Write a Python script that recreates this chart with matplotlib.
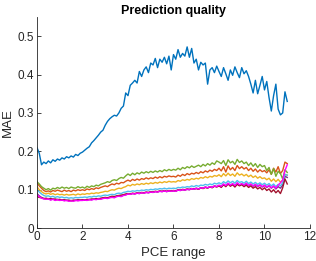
import numpy as np
import matplotlib
matplotlib.use("Agg")
import matplotlib.pyplot as plt

# PCE range 0 .. 11 step 0.1
pce = np.round(np.arange(0, 11.05, 0.1), 2)

mae_blue = [
    0.210, 0.195, 0.165, 0.172, 0.168, 0.175, 0.170, 0.178, 0.174, 0.180,
    0.177, 0.183, 0.180, 0.186, 0.183, 0.188, 0.185, 0.192, 0.189, 0.195,
    0.198, 0.203, 0.208, 0.212, 0.222, 0.228, 0.235, 0.242, 0.250, 0.255,
    0.268, 0.278, 0.285, 0.290, 0.294, 0.292, 0.300, 0.312, 0.318, 0.352,
    0.345, 0.372, 0.378, 0.385, 0.378, 0.408, 0.395, 0.412, 0.420, 0.405,
    0.430, 0.425, 0.442, 0.418, 0.440, 0.432, 0.445, 0.428, 0.448, 0.412,
    0.452, 0.440, 0.465, 0.445, 0.455, 0.448, 0.472, 0.445, 0.468, 0.430,
    0.440, 0.412, 0.432, 0.425, 0.430, 0.375, 0.412, 0.418, 0.405, 0.422,
    0.408, 0.395, 0.418, 0.402, 0.385, 0.412, 0.398, 0.420, 0.405, 0.392,
    0.418, 0.402, 0.410, 0.395, 0.375, 0.352, 0.385, 0.350, 0.372, 0.395,
    0.360, 0.382, 0.340, 0.305, 0.345, 0.375, 0.310, 0.295, 0.300, 0.355,
    0.330]

mae_orange = [
    0.118, 0.110, 0.104, 0.098, 0.095, 0.097, 0.094, 0.098, 0.096, 0.099,
    0.097, 0.095, 0.099, 0.096, 0.098, 0.095, 0.099, 0.097, 0.100, 0.098,
    0.100, 0.098, 0.102, 0.100, 0.103, 0.101, 0.105, 0.103, 0.106, 0.108,
    0.110, 0.108, 0.112, 0.115, 0.113, 0.117, 0.115, 0.119, 0.118, 0.122,
    0.125, 0.122, 0.127, 0.124, 0.128, 0.125, 0.129, 0.127, 0.131, 0.128,
    0.131, 0.129, 0.133, 0.130, 0.134, 0.131, 0.135, 0.133, 0.136, 0.134,
    0.135, 0.133, 0.138, 0.135, 0.140, 0.137, 0.142, 0.139, 0.143, 0.141,
    0.145, 0.142, 0.147, 0.144, 0.149, 0.146, 0.151, 0.148, 0.153, 0.150,
    0.156, 0.149, 0.160, 0.146, 0.162, 0.152, 0.158, 0.150, 0.163, 0.155,
    0.160, 0.154, 0.158, 0.150, 0.156, 0.148, 0.154, 0.146, 0.152, 0.147,
    0.150, 0.144, 0.152, 0.140, 0.156, 0.146, 0.160, 0.142, 0.150, 0.172,
    0.168]

mae_yellow = [
    0.108, 0.100, 0.095, 0.091, 0.089, 0.091, 0.088, 0.090, 0.087, 0.089,
    0.087, 0.088, 0.086, 0.088, 0.086, 0.087, 0.088, 0.086, 0.089, 0.087,
    0.089, 0.088, 0.090, 0.089, 0.091, 0.090, 0.092, 0.091, 0.093, 0.094,
    0.096, 0.095, 0.098, 0.100, 0.099, 0.102, 0.104, 0.103, 0.106, 0.108,
    0.112, 0.110, 0.114, 0.112, 0.115, 0.113, 0.116, 0.114, 0.117, 0.115,
    0.118, 0.116, 0.119, 0.117, 0.120, 0.118, 0.121, 0.119, 0.122, 0.120,
    0.121, 0.120, 0.124, 0.122, 0.126, 0.124, 0.127, 0.125, 0.129, 0.127,
    0.130, 0.128, 0.132, 0.130, 0.134, 0.131, 0.135, 0.133, 0.137, 0.135,
    0.139, 0.134, 0.142, 0.136, 0.143, 0.137, 0.141, 0.135, 0.144, 0.138,
    0.141, 0.136, 0.140, 0.134, 0.138, 0.132, 0.136, 0.130, 0.134, 0.129,
    0.131, 0.126, 0.130, 0.122, 0.128, 0.121, 0.127, 0.120, 0.125, 0.140,
    0.138]

mae_purple = [
    0.090, 0.084, 0.080, 0.077, 0.076, 0.077, 0.074, 0.076, 0.073, 0.075,
    0.073, 0.074, 0.072, 0.073, 0.071, 0.072, 0.071, 0.073, 0.072, 0.073,
    0.073, 0.074, 0.073, 0.075, 0.074, 0.076, 0.075, 0.077, 0.076, 0.078,
    0.079, 0.078, 0.080, 0.081, 0.080, 0.083, 0.084, 0.083, 0.086, 0.087,
    0.089, 0.088, 0.090, 0.089, 0.091, 0.090, 0.092, 0.091, 0.093, 0.092,
    0.094, 0.093, 0.095, 0.094, 0.096, 0.095, 0.097, 0.095, 0.097, 0.096,
    0.097, 0.096, 0.099, 0.098, 0.100, 0.099, 0.101, 0.100, 0.103, 0.101,
    0.104, 0.102, 0.105, 0.104, 0.107, 0.105, 0.108, 0.106, 0.110, 0.108,
    0.111, 0.108, 0.114, 0.110, 0.116, 0.111, 0.115, 0.110, 0.117, 0.112,
    0.115, 0.111, 0.116, 0.110, 0.114, 0.109, 0.113, 0.108, 0.112, 0.107,
    0.111, 0.106, 0.110, 0.104, 0.109, 0.102, 0.108, 0.104, 0.112, 0.135,
    0.132]

mae_green = [
    0.121, 0.115, 0.108, 0.104, 0.100, 0.103, 0.099, 0.104, 0.102, 0.106,
    0.103, 0.107, 0.104, 0.106, 0.103, 0.107, 0.105, 0.104, 0.108, 0.105,
    0.107, 0.104, 0.109, 0.106, 0.110, 0.108, 0.112, 0.110, 0.114, 0.116,
    0.118, 0.121, 0.119, 0.124, 0.126, 0.124, 0.129, 0.132, 0.130, 0.136,
    0.141, 0.137, 0.143, 0.139, 0.144, 0.141, 0.146, 0.143, 0.147, 0.144,
    0.148, 0.145, 0.149, 0.146, 0.150, 0.147, 0.152, 0.149, 0.153, 0.150,
    0.153, 0.151, 0.156, 0.152, 0.158, 0.155, 0.160, 0.157, 0.162, 0.158,
    0.161, 0.164, 0.160, 0.166, 0.162, 0.168, 0.164, 0.170, 0.166, 0.175,
    0.172, 0.168, 0.176, 0.163, 0.178, 0.170, 0.174, 0.166, 0.179, 0.171,
    0.175, 0.168, 0.172, 0.163, 0.170, 0.161, 0.168, 0.158, 0.166, 0.160,
    0.163, 0.150, 0.158, 0.140, 0.155, 0.135, 0.148, 0.142, 0.128, 0.152,
    0.145]

mae_lightblue = [
    0.100, 0.094, 0.089, 0.085, 0.083, 0.084, 0.081, 0.083, 0.080, 0.082,
    0.080, 0.081, 0.079, 0.080, 0.078, 0.079, 0.078, 0.080, 0.079, 0.080,
    0.080, 0.081, 0.080, 0.082, 0.081, 0.083, 0.082, 0.084, 0.083, 0.085,
    0.086, 0.085, 0.087, 0.088, 0.087, 0.090, 0.091, 0.090, 0.093, 0.094,
    0.096, 0.095, 0.097, 0.096, 0.098, 0.097, 0.099, 0.098, 0.100, 0.099,
    0.101, 0.100, 0.102, 0.101, 0.103, 0.102, 0.104, 0.102, 0.104, 0.103,
    0.104, 0.103, 0.106, 0.105, 0.107, 0.106, 0.108, 0.107, 0.110, 0.108,
    0.111, 0.109, 0.112, 0.111, 0.114, 0.112, 0.115, 0.113, 0.117, 0.115,
    0.118, 0.115, 0.121, 0.117, 0.123, 0.118, 0.122, 0.117, 0.124, 0.119,
    0.121, 0.117, 0.122, 0.116, 0.120, 0.115, 0.119, 0.114, 0.118, 0.113,
    0.117, 0.112, 0.116, 0.110, 0.115, 0.108, 0.114, 0.110, 0.118, 0.140,
    0.138]

mae_darkred = [
    0.082, 0.080, 0.079, 0.077, 0.078, 0.076, 0.077, 0.075, 0.076, 0.074,
    0.075, 0.073, 0.074, 0.072, 0.073, 0.071, 0.073, 0.072, 0.074, 0.073,
    0.074, 0.073, 0.075, 0.074, 0.076, 0.075, 0.077, 0.076, 0.078, 0.079,
    0.080, 0.079, 0.081, 0.083, 0.082, 0.084, 0.085, 0.086, 0.087, 0.089,
    0.090, 0.089, 0.091, 0.090, 0.092, 0.091, 0.093, 0.092, 0.094, 0.093,
    0.095, 0.094, 0.096, 0.095, 0.097, 0.096, 0.098, 0.096, 0.098, 0.097,
    0.098, 0.097, 0.100, 0.099, 0.101, 0.100, 0.102, 0.101, 0.103, 0.102,
    0.103, 0.101, 0.105, 0.103, 0.106, 0.104, 0.108, 0.105, 0.109, 0.107,
    0.110, 0.106, 0.113, 0.108, 0.115, 0.109, 0.113, 0.107, 0.114, 0.110,
    0.113, 0.108, 0.112, 0.106, 0.110, 0.104, 0.108, 0.102, 0.106, 0.100,
    0.105, 0.098, 0.102, 0.094, 0.100, 0.092, 0.098, 0.090, 0.105, 0.128,
    0.115]

mae_magenta = [
    0.087, 0.082, 0.078, 0.076, 0.075, 0.076, 0.073, 0.075, 0.072, 0.074,
    0.072, 0.073, 0.071, 0.072, 0.070, 0.071, 0.070, 0.072, 0.071, 0.072,
    0.072, 0.073, 0.072, 0.074, 0.073, 0.075, 0.074, 0.076, 0.075, 0.077,
    0.078, 0.077, 0.079, 0.080, 0.079, 0.082, 0.083, 0.082, 0.085, 0.086,
    0.089, 0.088, 0.090, 0.089, 0.091, 0.090, 0.092, 0.091, 0.093, 0.092,
    0.094, 0.093, 0.095, 0.094, 0.096, 0.095, 0.097, 0.095, 0.097, 0.096,
    0.097, 0.096, 0.099, 0.098, 0.100, 0.099, 0.101, 0.100, 0.103, 0.101,
    0.104, 0.102, 0.105, 0.104, 0.107, 0.105, 0.108, 0.106, 0.110, 0.108,
    0.112, 0.109, 0.115, 0.111, 0.117, 0.112, 0.116, 0.111, 0.118, 0.113,
    0.116, 0.112, 0.117, 0.111, 0.115, 0.110, 0.114, 0.109, 0.113, 0.108,
    0.112, 0.107, 0.111, 0.105, 0.110, 0.104, 0.112, 0.118, 0.125, 0.150,
    0.165]

series = [
    (mae_blue, (0.000, 0.447, 0.741)),
    (mae_orange, (0.850, 0.325, 0.098)),
    (mae_yellow, (0.929, 0.694, 0.125)),
    (mae_purple, (0.494, 0.184, 0.556)),
    (mae_green, (0.466, 0.674, 0.188)),
    (mae_lightblue, (0.301, 0.745, 0.933)),
    (mae_darkred, (0.635, 0.078, 0.184)),
    (mae_magenta, (1.0, 0.0, 1.0)),
]

plt.rcParams['font.family'] = ['Liberation Sans', 'DejaVu Sans']
txt = (0.15, 0.15, 0.15)

fig = plt.figure(figsize=(3.16, 2.61), dpi=100)
ax = fig.add_axes([0.117, 0.126, 0.864, 0.809])

for vals, col in series:
    ax.plot(pce, vals, color=col, lw=1.0)

ax.set_xlim(0, 12)
ax.set_ylim(0, 0.55)
ax.set_xticks([0, 2, 4, 6, 8, 10, 12])
ax.set_yticks([0, 0.1, 0.2, 0.3, 0.4, 0.5])
ax.set_yticklabels(['0', '0.1', '0.2', '0.3', '0.4', '0.5'])

for side in ['top', 'right']:
    ax.spines[side].set_visible(False)
for side in ['left', 'bottom']:
    ax.spines[side].set_color(txt)
    ax.spines[side].set_linewidth(0.6)
ax.tick_params(direction='in', length=3, width=0.6, colors=txt,
               labelsize=8.5, pad=2)

ax.set_xlabel('PCE range', fontsize=9.5, color=txt, labelpad=3)
ax.set_ylabel('MAE', fontsize=9.5, color=txt, labelpad=3)
ax.set_title('Prediction quality', fontsize=9, fontweight='bold',
             color='black', pad=1.5)

fig.savefig('out.png', dpi=100)
